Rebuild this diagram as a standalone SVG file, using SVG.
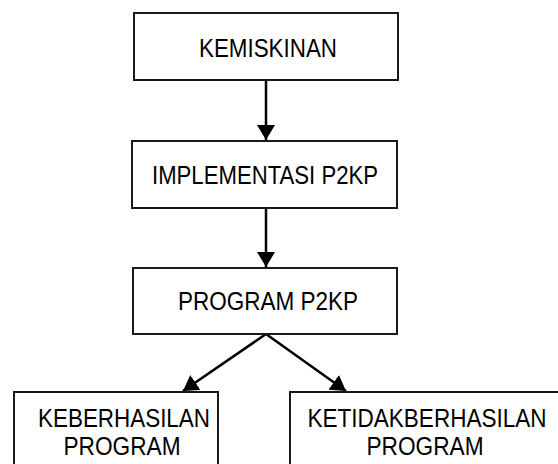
<svg xmlns="http://www.w3.org/2000/svg" width="558" height="464" viewBox="0 0 558 464">
<style>
.box{fill:#fff;stroke:#1a1a1a;stroke-width:2}
.lbl{font-family:"Liberation Sans",Arial,sans-serif;font-size:26px;fill:#000;text-anchor:middle}
.conn{stroke:#000;stroke-width:2.5;fill:none}
</style>
<defs>
<marker id="ah" markerUnits="userSpaceOnUse" markerWidth="16" markerHeight="18" refX="15" refY="9" orient="auto" viewBox="0 0 16 18">
<path d="M0,0 L15,9 L0,18 Z" fill="#000"/>
</marker>
</defs>
<rect width="558" height="464" fill="#fff"/>
<g id="connectors">
<line class="conn" x1="266" y1="80" x2="266" y2="140" marker-end="url(#ah)"/>
<line class="conn" x1="266" y1="208" x2="266" y2="267" marker-end="url(#ah)"/>
<line class="conn" x1="266" y1="334" x2="183" y2="391" marker-end="url(#ah)"/>
<line class="conn" x1="266" y1="334" x2="346" y2="391" marker-end="url(#ah)"/>
</g>
<g id="kemiskinan">
<rect class="box" x="134" y="13" width="264" height="67"/>
<text class="lbl" x="268" y="57" textLength="138" lengthAdjust="spacingAndGlyphs">KEMISKINAN</text>
</g>
<g id="implementasi">
<rect class="box" x="132" y="141" width="265" height="67"/>
<text class="lbl" x="265" y="184" textLength="226" lengthAdjust="spacingAndGlyphs">IMPLEMENTASI P2KP</text>
</g>
<g id="program">
<rect class="box" x="133" y="268" width="264" height="66"/>
<text class="lbl" x="268" y="310" textLength="180" lengthAdjust="spacingAndGlyphs">PROGRAM P2KP</text>
</g>
<g id="keberhasilan">
<rect class="box" x="14" y="392" width="204" height="90"/>
<text class="lbl" x="124" y="427" textLength="172" lengthAdjust="spacingAndGlyphs">KEBERHASILAN</text>
<text class="lbl" x="122" y="455" textLength="117" lengthAdjust="spacingAndGlyphs">PROGRAM</text>
</g>
<g id="ketidakberhasilan">
<rect class="box" x="290" y="392" width="290" height="90"/>
<text class="lbl" x="427" y="427" textLength="239" lengthAdjust="spacingAndGlyphs">KETIDAKBERHASILAN</text>
<text class="lbl" x="425" y="455" textLength="117" lengthAdjust="spacingAndGlyphs">PROGRAM</text>
</g>
</svg>
